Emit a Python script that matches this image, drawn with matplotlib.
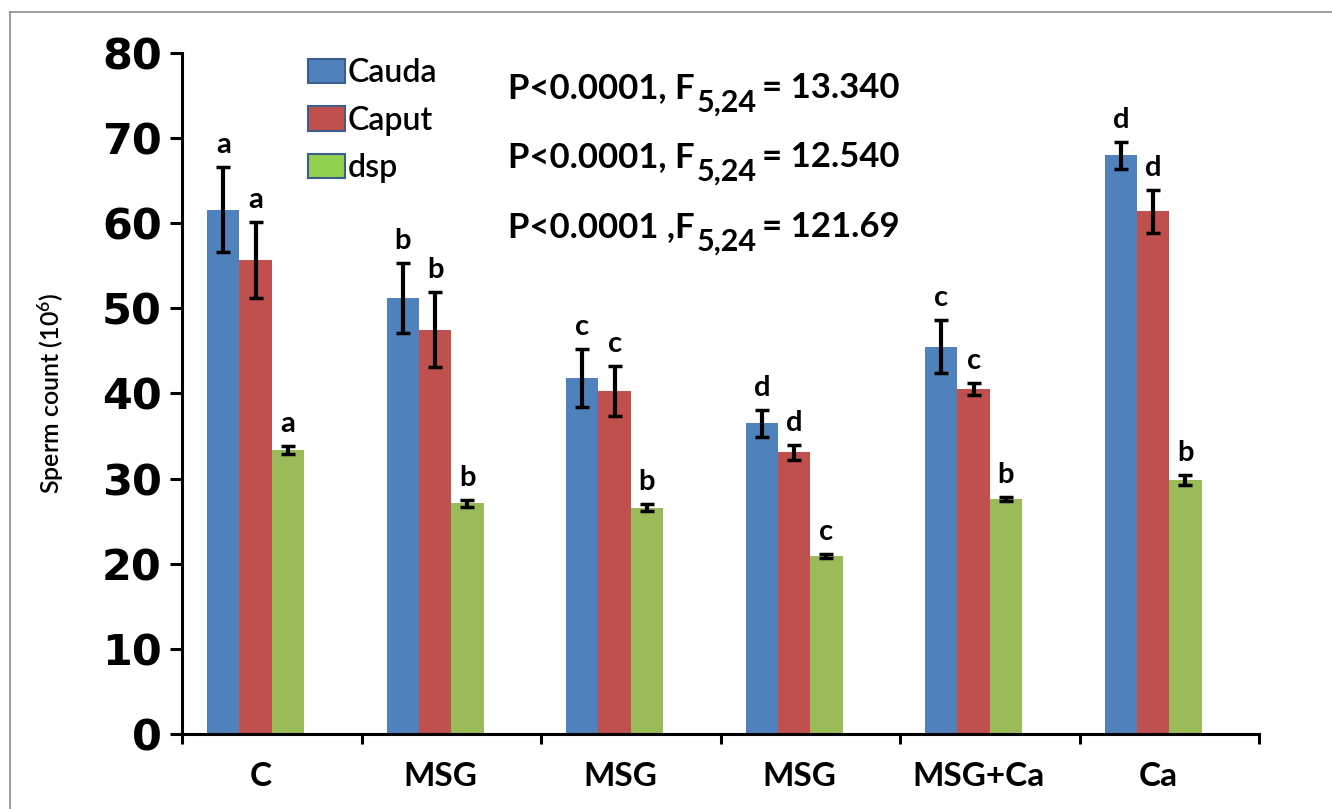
import matplotlib
matplotlib.use('Agg')
import numpy as np
import matplotlib.pyplot as plt
from matplotlib.patches import Patch
from matplotlib.lines import Line2D

plt.rcParams['font.family'] = ['Lato', 'DejaVu Sans']
plt.rcParams['mathtext.fontset'] = 'custom'
plt.rcParams['mathtext.rm'] = 'Lato'
plt.rcParams['mathtext.default'] = 'regular'

# data
groups = ['C', 'MSG', 'MSG', 'MSG', 'MSG+Ca', 'Ca']
series = ['Cauda', 'Caput', 'dsp']
cauda = [61.6, 51.2, 41.8, 36.5, 45.5, 68.0]
cauda_err = [5.0, 4.1, 3.4, 1.6, 3.1, 1.6]
caput = [55.7, 47.5, 40.3, 33.1, 40.5, 61.4]
caput_err = [4.5, 4.4, 2.9, 0.9, 0.7, 2.5]
dsp = [33.4, 27.1, 26.6, 20.9, 27.6, 29.8]
dsp_err = [0.45, 0.4, 0.4, 0.2, 0.2, 0.6]
cauda_letters = ['a', 'b', 'c', 'd', 'c', 'd']
caput_letters = ['a', 'b', 'c', 'd', 'c', 'd']
dsp_letters = ['a', 'b', 'b', 'c', 'b', 'b']
stats = [('P<0.0001, F', '5,24', '= 13.340'),
         ('P<0.0001, F', '5,24', '= 12.540'),
         ('P<0.0001 ,F', '5,24', '= 121.69')]
yticks = [0, 10, 20, 30, 40, 50, 60, 70, 80]

colors = ['#4F81BD', '#C0504D', '#9BBB59']
legend_colors = ['#4F81BD', '#C0504D', '#92D050']

W, H = 1332, 809
fig = plt.figure(figsize=(W / 100, H / 100), dpi=100)
ax = fig.add_axes([182 / W, 1 - 734 / H, 1077 / W, 681 / H])

x = np.arange(len(groups))
w = 0.18
# Excel-style layout with four slots per group, only three used
offsets = [-1.5 * w, -0.5 * w, 0.5 * w]

all_vals = [cauda, caput, dsp]
all_errs = [cauda_err, caput_err, dsp_err]
all_letters = [cauda_letters, caput_letters, dsp_letters]

for k in range(3):
    ax.bar(x + offsets[k], all_vals[k], w, color=colors[k], zorder=2,
           yerr=all_errs[k],
           error_kw=dict(ecolor='black', elinewidth=3, capsize=5, capthick=2.5, zorder=3))
    for i in range(len(groups)):
        ax.annotate(all_letters[k][i], xy=(x[i] + offsets[k], all_vals[k][i] + all_errs[k][i]),
                    xytext=(0, 10), textcoords='offset points', ha='center', va='baseline',
                    fontsize=21, fontweight='bold')

ax.set_xlim(-0.5, 5.5)
ax.set_ylim(0, 80)

# category labels centred under the bars, group boundaries as ticks
ax.set_xticks(x - 0.06)
ax.set_xticklabels(groups, fontsize=24, fontweight='bold')
ax.tick_params(axis='x', which='major', length=0, pad=20)
ax.set_xticks(np.arange(-0.5, 6, 1), minor=True)
ax.tick_params(axis='x', which='minor', direction='out', length=7, width=2.2)

ax.set_yticks(yticks)
ax.set_yticklabels([str(t) for t in yticks], fontsize=31, fontweight='bold', family='DejaVu Sans')
ax.tick_params(axis='y', direction='out', length=8.5, width=2.2, pad=6)

for s in ['top', 'right']:
    ax.spines[s].set_visible(False)
for s in ['left', 'bottom']:
    ax.spines[s].set_linewidth(2.2)

ax.set_ylabel('Sperm count (10$^{6}$)', fontsize=18, fontweight='semibold')
ax.yaxis.set_label_coords(-0.108, 0.5)

# legend
handles = [Patch(facecolor=c, edgecolor='#3B5E8C', linewidth=1.5) for c in legend_colors]
ax.legend(handles, series, loc='upper left', bbox_to_anchor=(308 / W, 1 - 58 / H),
          bbox_transform=fig.transFigure, frameon=False,
          prop=dict(size=23, weight='semibold'),
          handlelength=1.15, handleheight=0.8, handletextpad=0.1, labelspacing=0.55,
          borderpad=0, borderaxespad=0)

# statistics text with large subscripts
baselines = [98, 167, 237]
for (head, sub, tail), yb in zip(stats, baselines):
    yf = 1 - yb / H
    t1 = fig.text(508 / W, yf, head, fontsize=25, fontweight='bold', va='baseline', ha='left')
    t2 = ax.annotate(sub, xy=(1, yf), xycoords=(t1, fig.transFigure), xytext=(1.5, -10),
                     textcoords='offset points', fontsize=22, fontweight='bold',
                     va='baseline', ha='left')
    ax.annotate(tail, xy=(1, yf), xycoords=(t2, fig.transFigure), xytext=(4, 0),
                textcoords='offset points', fontsize=25, fontweight='bold',
                va='baseline', ha='left')

# thin grey frame of the original picture
fig.add_artist(Line2D([10 / W, 10 / W], [0, 1 - 12 / H], transform=fig.transFigure,
                      color='#8c8c8c', lw=1.2))
fig.add_artist(Line2D([10 / W, 1], [1 - 12 / H, 1 - 12 / H], transform=fig.transFigure,
                      color='#8c8c8c', lw=1.2))

fig.savefig('out.png', dpi=100)
